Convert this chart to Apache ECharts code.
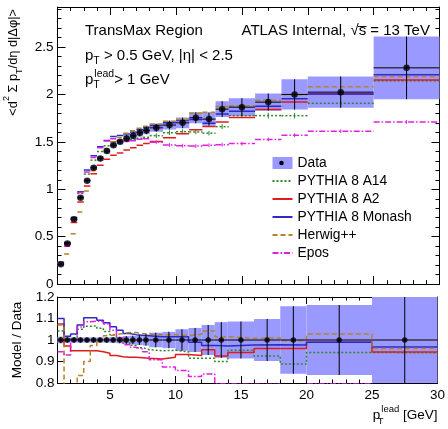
<!DOCTYPE html>
<html><head><meta charset="utf-8">
<script src="https://cdn.jsdelivr.net/npm/echarts@6/dist/echarts.min.js"></script>
<style>html,body{margin:0;padding:0;background:#fff}#c{width:448px;height:429px}</style>
</head><body><div id="c"></div>
<script>
// ---------- data ----------
const binLo = [1,1.5,2,2.5,3,3.5,4,4.5,5,5.5,6,6.5,7,7.5,8,9,10,11,12,13,14,16,18,20,25];
const binHi = [1.5,2,2.5,3,3.5,4,4.5,5,5.5,6,6.5,7,7.5,8,9,10,11,12,13,14,16,18,20,25,30];
const dataVal = [0.21,0.43,0.683,0.911,1.09,1.226,1.325,1.402,1.465,1.50,1.536,1.563,1.595,1.62,1.647,1.676,1.70,1.753,1.739,1.844,1.865,1.918,1.999,2.023,2.279];
const dataBand = [0.02,0.02,0.02,0.02,0.02,0.025,0.025,0.025,0.025,0.025,0.035,0.037,0.04,0.04,0.042,0.047,0.056,0.058,0.07,0.083,0.094,0.09,0.16,0.165,0.33];
const ratioBand = [0.015,0.012,0.012,0.012,0.012,0.012,0.012,0.012,0.013,0.015,0.018,0.02,0.023,0.026,0.034,0.038,0.05,0.056,0.07,0.083,0.086,0.098,0.157,0.163,0.30];
const ratioA14    = [1.042,1.005,1.01,1.05,1.064,1.066,1.055,1.04,1.024,1.008,0.99,0.976,0.964,0.955,0.95,0.952,0.945,0.915,0.915,0.90,0.952,0.926,0.888,0.942,0.94];
const ratioA2     = [1.075,0.972,0.95,0.95,0.95,0.95,0.945,0.938,0.928,0.922,0.92,0.92,0.918,0.915,0.912,0.92,0.932,0.928,0.955,0.926,0.942,0.96,0.96,0.99,0.944];
const ratioMonash = [1.10,1.018,1.028,1.07,1.104,1.104,1.092,1.08,1.062,1.045,1.03,1.025,1.022,1.02,1.015,1.015,1.015,0.99,0.975,0.972,0.977,0.978,0.977,0.99,0.968];
const ratioHerwig = [1.07,0.74,0.78,0.835,0.90,0.975,1.0,1.02,1.025,1.03,1.035,1.035,1.03,1.027,1.024,1.024,1.02,1.027,1.042,1.015,1.008,1.01,0.998,1.028,0.96];
const ratioEpos   = [0.945,0.93,1.0,1.06,1.085,1.088,1.085,1.075,1.045,1.01,0.978,0.966,0.958,0.945,0.908,0.875,0.858,0.83,0.842,0.797,0.794,0.795,0.785,0.797,0.75];
const mcErrA14  = [0,0,0,0,0,0,0,0,0,0,0,0,0,0,0.025,0.025,0.025,0.025,0.025,0.025,0.025,0.03,0.03,0.03,0.03];
const mcErrEpos = [0,0,0,0,0,0,0,0,0,0,0,0,0,0,0.02,0.02,0.02,0.02,0.02,0.02,0.02,0.02,0.02,0.02,0.02];
const xTickLabels = [5,10,15,20,25,30];
const yTopTickLabels = [0,0.5,1,1.5,2,2.5];
const yRatioTickLabels = [0.8,0.9,1,1.1,1.2];

// ---------- styles ----------
const FONT = 'Liberation Sans, Arial, Helvetica, sans-serif';
const FS = 13.5;
function makeRich(base, small){
  return {
    n:   {fontSize: base, fontFamily: FONT, fontWeight:'normal', color:'#000', lineHeight: 22, verticalAlign:'middle'},
    sub: {fontSize: small, fontFamily: FONT, fontWeight:'normal', color:'#000', lineHeight: 11, verticalAlign:'bottom'},
    subn:{fontSize: small, fontFamily: FONT, fontWeight:'normal', color:'#000', lineHeight: 11, verticalAlign:'bottom', width: 1, align:'left'},
    sup: {fontSize: small, fontFamily: FONT, fontWeight:'normal', color:'#000', lineHeight: 11, verticalAlign:'top'}
  };
}
const rich = makeRich(FS, 9.5);
const richBig = makeRich(15, 10.5);
const richY = makeRich(12.8, 9);
const models = [
  {name:'PYTHIA 8 A14',    r: ratioA14,    color:'#2a8a2a', dash:[2,2],       err: mcErrA14},
  {name:'PYTHIA 8 A2',     r: ratioA2,     color:'#e01c1c', dash:'solid',    err: null},
  {name:'PYTHIA 8 Monash', r: ratioMonash, color:'#2b2bc8', dash:'solid',    err: null},
  {name:'Herwig++',        r: ratioHerwig, color:'#b5832a', dash:[5,3],      err: null},
  {name:'Epos',            r: ratioEpos,   color:'#e020e0', dash:[6,2,1.5,2], err: mcErrEpos}
];
const ratioOne = dataVal.map(() => 1);

function fmtFrom(list){
  return function(v){ const t = list.find(x => Math.abs(x - v) < 1e-6); return t === undefined ? '' : String(t); };
}
function majorX(grid, pos, labels, extra){
  return Object.assign({type:'value', gridIndex:grid, position:pos, min:1, max:30, splitNumber:6,
    axisLine:{show:true, onZero:false, lineStyle:{color:'#000', width:1}},
    axisTick:{show:true, inside:true, length: grid===0?8:7, lineStyle:{color:'#000'}},
    axisLabel:{show:labels, margin:5, fontSize:FS, fontFamily:FONT, color:'#000', formatter: fmtFrom(xTickLabels)},
    splitLine:{show:false}}, extra||{});
}
function minorX(grid, pos){
  return {type:'value', gridIndex:grid, position:pos, min:1, max:30, interval:1,
    axisLine:{show:false, onZero:false}, axisTick:{show:true, inside:true, length: grid===0?4:3.5, lineStyle:{color:'#000'}},
    axisLabel:{show:false}, splitLine:{show:false}};
}
const xAxes = [
  majorX(0,'bottom',false), majorX(0,'top',false), minorX(0,'bottom'), minorX(0,'top'),
  majorX(1,'bottom',true,{name:'{n|p}{subn|T}{sup|lead}{n| [GeV]}', nameLocation:'end', nameGap:0,
     nameTextStyle:{align:'right', verticalAlign:'top', padding:[21,0,0,0], rich:rich}}),
  majorX(1,'top',false), minorX(1,'bottom'), minorX(1,'top')
];
const yAxes = [
  {type:'value', gridIndex:0, position:'left', min:0, max:2.92, interval:0.5,
   axisLine:{show:true, onZero:false, lineStyle:{color:'#000'}},
   axisTick:{show:true, inside:true, length:8, lineStyle:{color:'#000'}},
   axisLabel:{margin:4, fontSize:FS, fontFamily:FONT, color:'#000', formatter: fmtFrom(yTopTickLabels)},
   splitLine:{show:false},
   name:'{n|<d}{sup|2}{n| Σ p}{sub|T}{n|/dη d|Δφ|>}', nameLocation:'end', nameGap:-2, nameRotate:90,
   nameTextStyle:{align:'right', verticalAlign:'bottom', padding:[0,0,33,0], rich:richY}},
  {type:'value', gridIndex:0, position:'right', min:0, max:2.92, interval:0.5,
   axisLine:{show:true, onZero:false, lineStyle:{color:'#000'}},
   axisTick:{show:true, inside:true, length:8, lineStyle:{color:'#000'}}, axisLabel:{show:false}, splitLine:{show:false}},
  {type:'value', gridIndex:0, position:'left', min:0, max:2.92, interval:0.1,
   axisLine:{show:false, onZero:false}, axisTick:{show:true, inside:true, length:4, lineStyle:{color:'#000'}}, axisLabel:{show:false}, splitLine:{show:false}},
  {type:'value', gridIndex:0, position:'right', min:0, max:2.92, interval:0.1,
   axisLine:{show:false, onZero:false}, axisTick:{show:true, inside:true, length:4, lineStyle:{color:'#000'}}, axisLabel:{show:false}, splitLine:{show:false}},
  {type:'value', gridIndex:1, position:'left', min:0.8, max:1.2, interval:0.1,
   axisLine:{show:true, onZero:false, lineStyle:{color:'#000'}},
   axisTick:{show:true, inside:true, length:6, lineStyle:{color:'#000'}},
   axisLabel:{margin:3, fontSize:FS, fontFamily:FONT, color:'#000', formatter: fmtFrom(yRatioTickLabels)},
   splitLine:{show:false},
   name:'Model / Data', nameLocation:'middle', nameGap:33, nameRotate:90,
   nameTextStyle:{fontSize:FS, fontFamily:FONT, color:'#000'}},
  {type:'value', gridIndex:1, position:'right', min:0.8, max:1.2, interval:0.1,
   axisLine:{show:true, onZero:false, lineStyle:{color:'#000'}},
   axisTick:{show:true, inside:true, length:6, lineStyle:{color:'#000'}}, axisLabel:{show:false}, splitLine:{show:false}}
];

// ---------- series ----------
const series = [];
series.push({
  name:'Data', type:'custom', xAxisIndex:0, yAxisIndex:0, clip:true, z:1,
  itemStyle:{color:'#9999ff'},
  dimensions:['lo','hi','v','b'], encode:{x:[0,1], y:2},
  data: binLo.map((lo,i)=>[lo, binHi[i], dataVal[i], dataBand[i]]),
  renderItem:function(params, api){
    const a = api.coord([api.value(0), api.value(2)+api.value(3)]);
    const b = api.coord([api.value(1), api.value(2)-api.value(3)]);
    return {type:'rect', shape:{x:a[0], y:a[1], width:b[0]-a[0], height:b[1]-a[1]}, style:{fill:'#9999ff'}};
  }
});
models.forEach(m => {
  const d = binLo.map((lo,i)=>[lo, m.r[i]]);
  d.push([binHi[binHi.length-1], m.r[m.r.length-1]]);
  series.push({name:m.name, type:'line', xAxisIndex:4, yAxisIndex:4, step:'end', symbol:'none', showSymbol:false,
    clip:true, z:3, color:m.color, lineStyle:{color:m.color, width:1.5, type:m.dash}, data:d, animation:false});
});
models.forEach(m => {
  series.push({name:m.name, type:'custom', xAxisIndex:0, yAxisIndex:0, clip:true, z:3,
    itemStyle:{color:m.color},
    dimensions:['lo','hi','v','e'], encode:{x:[0,1], y:2},
    data: binLo.map((lo,i)=>[lo, binHi[i], dataVal[i]*m.r[i], m.err ? m.err[i] : 0]),
    renderItem:function(params, api){
      const lo = api.value(0), hi = api.value(1), v = api.value(2), e = api.value(3);
      const p1 = api.coord([lo, v]), p2 = api.coord([hi, v]);
      const ch = [{type:'line', shape:{x1:p1[0], y1:p1[1], x2:p2[0], y2:p2[1]},
        style:{stroke:m.color, lineWidth:1.5, lineDash: m.dash === 'solid' ? null : m.dash}}];
      if (e > 0) {
        const c1 = api.coord([(lo+hi)/2, v+e]), c2 = api.coord([(lo+hi)/2, v-e]);
        ch.push({type:'line', shape:{x1:c1[0], y1:c1[1], x2:c2[0], y2:c2[1]}, style:{stroke:m.color, lineWidth:1}});
      }
      return {type:'group', children:ch};
    }
  });
});
series.push({
  name:'Data band', type:'custom', xAxisIndex:4, yAxisIndex:4, clip:true, z:1,
  dimensions:['lo','hi','v','b'], encode:{x:[0,1], y:2},
  data: binLo.map((lo,i)=>[lo, binHi[i], ratioOne[i], ratioBand[i]]),
  renderItem:function(params, api){
    const a = api.coord([api.value(0), api.value(2)+api.value(3)]);
    const b = api.coord([api.value(1), api.value(2)-api.value(3)]);
    return {type:'rect', shape:{x:a[0], y:a[1], width:b[0]-a[0], height:b[1]-a[1]}, style:{fill:'#9999ff'}};
  }
});
function errSeries(name, xi, yi, vals, errs){
  return {name:name, type:'custom', xAxisIndex:xi, yAxisIndex:yi, clip:true, z:5,
    dimensions:['lo','hi','v','e'], encode:{x:[0,1], y:2},
    data: binLo.map((lo,i)=>[lo, binHi[i], vals[i], errs[i]]),
    renderItem:function(params, api){
      const lo = api.value(0), hi = api.value(1), v = api.value(2), e = api.value(3);
      const h1 = api.coord([lo, v]), h2 = api.coord([hi, v]);
      const v1 = api.coord([(lo+hi)/2, v+e]), v2 = api.coord([(lo+hi)/2, v-e]);
      return {type:'group', children:[
        {type:'line', shape:{x1:h1[0], y1:h1[1], x2:h2[0], y2:h2[1]}, style:{stroke:'#000', lineWidth:1}},
        {type:'line', shape:{x1:v1[0], y1:v1[1], x2:v2[0], y2:v2[1]}, style:{stroke:'#000', lineWidth:1}}
      ]};
    }
  };
}
series.push(errSeries('Data errors', 0, 0, dataVal, dataBand));
series.push(errSeries('Ratio errors', 4, 4, ratioOne, ratioBand));
series.push({name:'Data points', type:'scatter', xAxisIndex:0, yAxisIndex:0, symbol:'circle', symbolSize:6.5, z:6,
  itemStyle:{color:'#000'}, data: binLo.map((lo,i)=>[(lo+binHi[i])/2, dataVal[i]])});
series.push({name:'Ratio points', type:'scatter', xAxisIndex:4, yAxisIndex:4, symbol:'circle', symbolSize:5.5, z:6,
  itemStyle:{color:'#000'}, data: binLo.map((lo,i)=>[(lo+binHi[i])/2, ratioOne[i]])});

const hideSym = {color:'rgba(0,0,0,0)', borderWidth:0, opacity:0};
const option = {
  animation:false,
  backgroundColor:'#fff',
  textStyle:{fontFamily:FONT},
  grid:[{left:57.5, right:8.5, top:7, height:277.2}, {left:57.5, right:8.5, top:297, height:86}],
  xAxis:xAxes, yAxis:yAxes,
  title:[
    {text:'TransMax Region', left:85, top:23.5, padding:0, textStyle:{fontSize:15, fontWeight:'normal', fontFamily:FONT, color:'#000'}},
    {text:'ATLAS Internal, √s̅ = 13 TeV', left:241.5, top:23.5, padding:0, textStyle:{fontSize:15, fontWeight:'normal', fontFamily:FONT, color:'#000'}},
    {text:'{n|p}{sub|T}{n| > 0.5 GeV, |η| < 2.5}', left:85, top:45, padding:0, textStyle:{fontWeight:'normal', rich:richBig}},
    {text:'{n|p}{subn|T}{sup|lead}{n|> 1 GeV}', left:85, top:68.5, padding:0, textStyle:{fontWeight:'normal', rich:richBig}}
  ],
  legend:{orient:'vertical', left:271.5, top:156, itemWidth:20, itemHeight:12, itemGap:4, padding:0, selectedMode:false,
    textStyle:{fontSize:13.8, fontFamily:FONT, color:'#000'},
    data:[{name:'Data', icon:'rect'},
      {name:'PYTHIA 8 A14', itemStyle:hideSym},
      {name:'PYTHIA 8 A2', itemStyle:hideSym},
      {name:'PYTHIA 8 Monash', itemStyle:hideSym},
      {name:'Herwig++', itemStyle:hideSym},
      {name:'Epos', itemStyle:hideSym}]},
  graphic:[{type:'circle', shape:{cx:281.5, cy:163, r:2.3}, style:{fill:'#000'}, z:100}],
  series:series
};
const chart = echarts.init(document.getElementById('c'), null, {renderer:'canvas'});
chart.setOption(option);
</script></body></html>
